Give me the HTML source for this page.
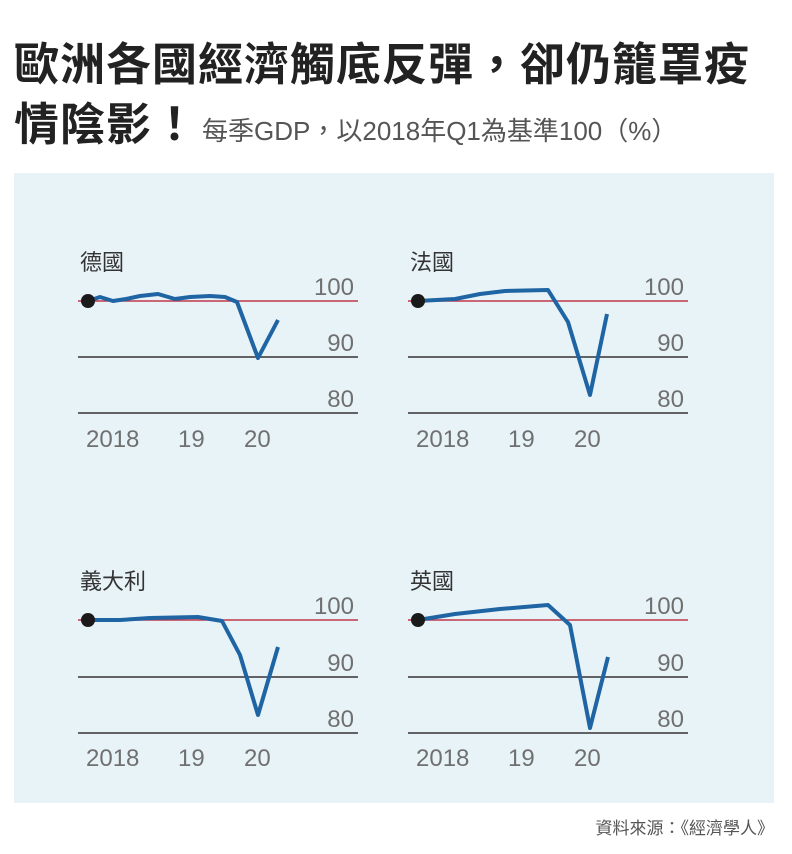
<!DOCTYPE html>
<html><head><meta charset="utf-8"><style>
body{margin:0;background:#fff;width:792px;height:854px;overflow:hidden;font-family:"Liberation Sans","Noto Sans CJK TC",sans-serif;}
.t{position:absolute;left:14px;font-weight:bold;font-size:45px;color:#222;letter-spacing:1px;white-space:nowrap}
</style></head><body>
<div class="t" style="top:28px;font-family:'Noto Sans CJK TC',sans-serif">歐洲各國經濟觸底反彈，卻仍籠罩疫</div>
<div class="t" style="top:88px;font-family:'Noto Sans CJK TC',sans-serif">情陰影！<span style="font-size:26px;font-weight:normal;color:#555;letter-spacing:0;margin-left:4px;font-family:'Liberation Sans','Noto Sans CJK TC',sans-serif">每季GDP，以2018年Q1為基準100（%）</span></div>
<svg style="position:absolute;left:0;top:0" width="792" height="854" font-family="Liberation Sans, Noto Sans CJK TC, sans-serif">
<rect x="14" y="173" width="760" height="630" fill="#e8f3f8"/>
<g font-size="24" fill="#707070">
<g>
<line x1="78" y1="301" x2="358" y2="301" stroke="#c0394a" stroke-width="1.5"/>
<line x1="78" y1="357" x2="358" y2="357" stroke="#333" stroke-width="1.5"/>
<line x1="78" y1="413" x2="358" y2="413" stroke="#333" stroke-width="1.5"/>
<text x="354" y="295" text-anchor="end">100</text><text x="354" y="351" text-anchor="end">90</text><text x="354" y="407" text-anchor="end">80</text>
<text x="86" y="447">2018</text><text x="178" y="447">19</text><text x="244" y="447">20</text>
<text x="80" y="270" fill="#333" font-size="22">德國</text>
<polyline points="88,301 100,297 113,301 126,299 140,296 158,294 175,299 190,297 210,296 225,297 237,302 258,358 278,320" fill="none" stroke="#1f64a3" stroke-width="4" stroke-linejoin="round"/>
<circle cx="88" cy="301" r="7" fill="#1a1a1a"/>
</g>
<g>
<line x1="408" y1="301" x2="688" y2="301" stroke="#c0394a" stroke-width="1.5"/>
<line x1="408" y1="357" x2="688" y2="357" stroke="#333" stroke-width="1.5"/>
<line x1="408" y1="413" x2="688" y2="413" stroke="#333" stroke-width="1.5"/>
<text x="684" y="295" text-anchor="end">100</text><text x="684" y="351" text-anchor="end">90</text><text x="684" y="407" text-anchor="end">80</text>
<text x="416" y="447">2018</text><text x="508" y="447">19</text><text x="574" y="447">20</text>
<text x="410" y="270" fill="#333" font-size="22">法國</text>
<polyline points="418,301 455,299 480,294 505,291 548,290 568,322 590,395 607,314" fill="none" stroke="#1f64a3" stroke-width="4" stroke-linejoin="round"/>
<circle cx="418" cy="301" r="7" fill="#1a1a1a"/>
</g>
<g>
<line x1="78" y1="620" x2="358" y2="620" stroke="#c0394a" stroke-width="1.5"/>
<line x1="78" y1="677" x2="358" y2="677" stroke="#333" stroke-width="1.5"/>
<line x1="78" y1="733" x2="358" y2="733" stroke="#333" stroke-width="1.5"/>
<text x="354" y="614" text-anchor="end">100</text><text x="354" y="671" text-anchor="end">90</text><text x="354" y="727" text-anchor="end">80</text>
<text x="86" y="766">2018</text><text x="178" y="766">19</text><text x="244" y="766">20</text>
<text x="80" y="589" fill="#333" font-size="22">義大利</text>
<polyline points="88,620 120,620 150,618 198,617 222,621 240,655 258,715 278,647" fill="none" stroke="#1f64a3" stroke-width="4" stroke-linejoin="round"/>
<circle cx="88" cy="620" r="7" fill="#1a1a1a"/>
</g>
<g>
<line x1="408" y1="620" x2="688" y2="620" stroke="#c0394a" stroke-width="1.5"/>
<line x1="408" y1="677" x2="688" y2="677" stroke="#333" stroke-width="1.5"/>
<line x1="408" y1="733" x2="688" y2="733" stroke="#333" stroke-width="1.5"/>
<text x="684" y="614" text-anchor="end">100</text><text x="684" y="671" text-anchor="end">90</text><text x="684" y="727" text-anchor="end">80</text>
<text x="416" y="766">2018</text><text x="508" y="766">19</text><text x="574" y="766">20</text>
<text x="410" y="589" fill="#333" font-size="22">英國</text>
<polyline points="418,620 455,614 500,609 548,605 570,625 590,728 608,657" fill="none" stroke="#1f64a3" stroke-width="4" stroke-linejoin="round"/>
<circle cx="418" cy="620" r="7" fill="#1a1a1a"/>
</g>
</g>
<text x="774" y="834" text-anchor="end" font-size="17" fill="#555">資料來源：《經濟學人》</text>
</svg>
</body></html>
